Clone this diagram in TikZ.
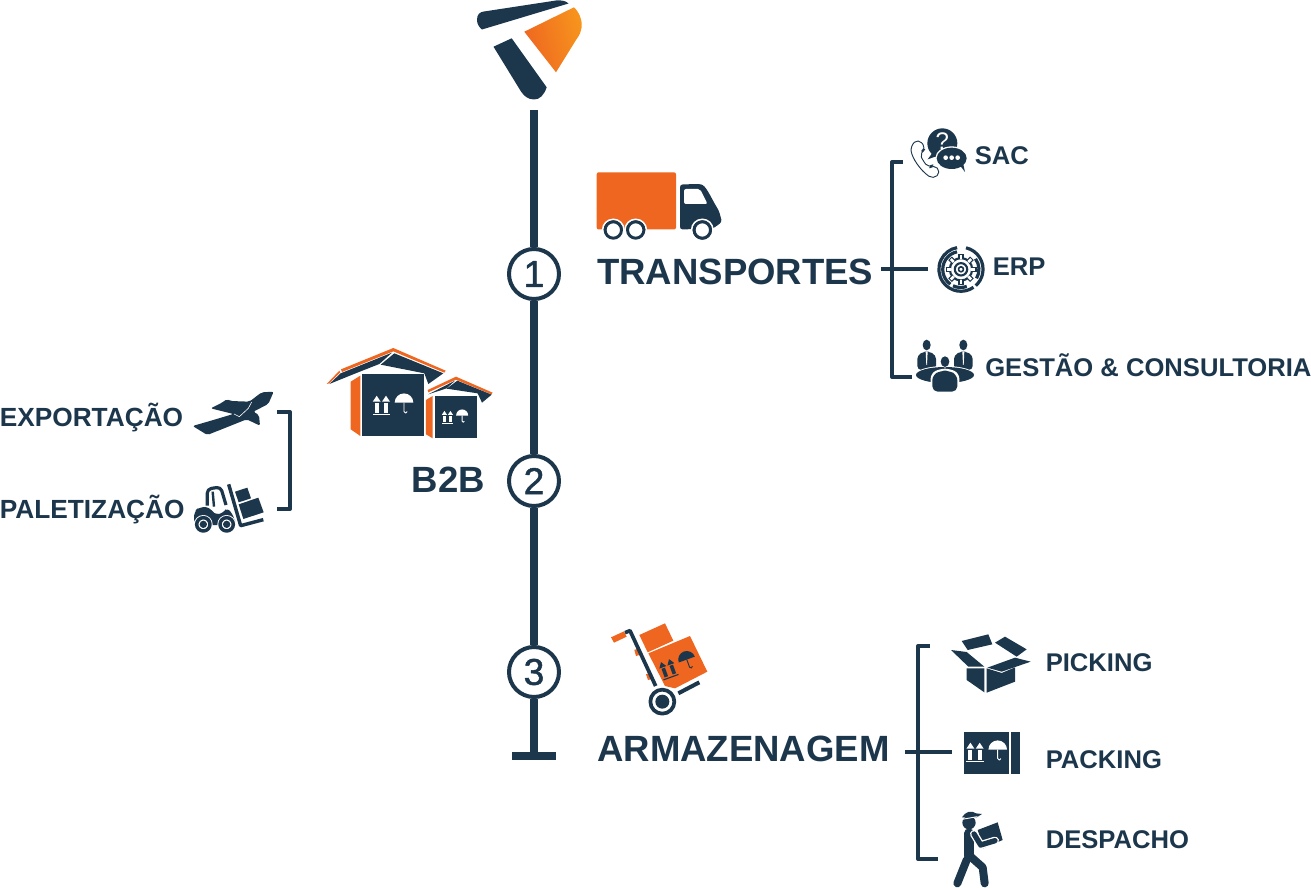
\documentclass[tikz,border=0pt]{standalone}
\usepackage{fontspec}
\setmainfont{Liberation Sans}
\newfontfamily\stepfont[FakeBold=1.2]{Liberation Sans}
\usepackage{tikz}
\usetikzlibrary{positioning, calc}
\definecolor{navy}{HTML}{1C364C}
\definecolor{tangerine}{HTML}{EE6620}
\definecolor{amber}{HTML}{F7941D}

% arrows and umbrella printed on the boxes
\newcommand{\boxmarks}[5]{
	\begin{scope}[shift={(#1,#2)},rotate=#4,scale=#3]
		\foreach \ax in {-16.3,-7}{
			\fill[#5] (\ax-4,-3.3) -- (\ax,-9.3) -- (\ax+4,-3.3) -- cycle;
			\fill[#5] (\ax-2,-2.2) rectangle (\ax+2,7.7);
		}
		\fill[#5] (-20.3,9.2) rectangle (-3,10.4);
		\fill[#5] (1.7,-2.3) arc[start angle=180,end angle=360,radius=9.3] -- cycle;
		\draw[#5,line width=.7pt] (11,-2.3) -- (11,6.5) arc[start angle=180,end angle=0,radius=1.6];
	\end{scope}
}

\begin{document}
\begin{tikzpicture}[x=0.75pt,y=-0.75pt,line join=round]
	\def \axisx{534}
	\def \headsize{27.4pt}
	\def \itemsize{19.2pt}
	\def \leftsize{19.7pt}
	\tikzstyle{s-node}=[circle,draw=navy,line width=3pt,fill=white,minimum size=37.5pt,inner sep=0pt,text=navy,font=\fontsize{28pt}{28pt}\stepfont]
	\tikzstyle{h-node}=[inner sep=0pt,text=navy,font=\fontsize{\headsize}{\headsize}\selectfont\bfseries]
	\tikzstyle{i-node}=[inner sep=0pt,anchor=west,text=navy,font=\fontsize{\itemsize}{\itemsize}\selectfont\bfseries]
	\tikzstyle{l-node}=[i-node,font=\fontsize{\leftsize}{\leftsize}\selectfont\bfseries]
	\tikzstyle{axis}=[draw=navy,line width=6pt]
	\tikzstyle{bracket}=[draw=navy,line width=3pt]
	\tikzstyle{dk}=[fill=navy]
	\tikzstyle{og}=[fill=tangerine]
	\useasboundingbox (0,0) rectangle (1311,888);

	% logo
	\fill[dk] (477,20) .. controls (477,14) and (480,12) .. (484,11.5) -- (556,0.5) .. controls (562,0) and (566,1) .. (568.5,3.5) -- (482,29.5) .. controls (479,27) and (477,24) .. cycle;
	\fill[dk] (493.5,46.7) -- (511.7,38.3) -- (546.7,87.3) .. controls (544,95) and (540,99.5) .. (534,99.5) .. controls (528,99.5) and (524,96) .. (521,91.5) -- cycle;
	\shade[left color=tangerine,right color=amber,shading angle=105] (524.3,31.7) -- (574,7.3) .. controls (581,14) and (583,24) .. (581,30) .. controls (580,35) and (578,37) .. (576,40) -- (556,72.3) -- cycle;

	% axis
	\coordinate (axtop) at (\axisx,110);
	\coordinate (axbot) at (\axisx,756);
	\coordinate (axl) at (512,756);
	\coordinate (axr) at (556,756);
	\node[s-node] (s1) at (\axisx,274) {1};
	\node[s-node] (s2) at (\axisx,481) {2};
	\node[s-node] (s3) at (\axisx,672) {3};
	\path[axis]
		(axtop) edge (s1)
		(s1) edge (s2)
		(s2) edge (s3)
		(s3) edge (axbot)
		(axl) edge (axr);

	% truck
	\fill[og,rounded corners=1.5pt] (596.7,172.3) rectangle (676,229.5);
	\fill[dk,rounded corners=2pt] (680,184.5) -- (698,184) .. controls (706,185) and (710,196) .. (719,211) -- (722,222) -- (713,228.5) -- (680,229.5) -- cycle;
	\fill[white,rounded corners=1.5pt] (684,189) -- (700,189) -- (707.5,204) -- (684,204) -- cycle;
	\foreach \wx in {613.3,635.7,702.3}{
		\fill[white] (\wx,230) circle[radius=11.5];
		\draw[navy,line width=2.2pt,fill=white] (\wx,230) circle[radius=8.2];
	}
	\fill[white] (596,230) rectangle (680,240);
	\foreach \wx in {613.3,635.7,702.3}
		\draw[navy,line width=2.2pt,fill=white] (\wx,230) circle[radius=8.2];

	% transportes block
	\node[h-node,anchor=west] (transp) at (597,272) {TRANSPORTES};
	\coordinate (trmid) at (881,269);
	\coordinate (tricon) at (928,269);
	\coordinate (trtop) at (903,162);
	\coordinate (trbot) at (892,377);
	\coordinate (trend) at (912,377);
	\path[bracket] (trmid) edge (tricon);
	\draw[bracket] (trtop) -| (trbot) -- (trend);
	\node[i-node] (sac) at (974.5,155.5) {SAC};
	\node[i-node] (erp) at (992.5,267) {ERP};
	\node[i-node] (gestao) at (985,365.3) {GESTÃO \& CONSULTORIA};

	% sac icon
	\begin{scope}[shift={(905,120)},scale=1/3]
		\draw[navy,line width=.7pt,rounded corners=4pt,fill=white] (40,56) -- (16,78) .. controls (22,115) and (45,150) .. (85,178) -- (108,156) -- (86,133) -- (72,145) .. controls (60,130) and (50,115) .. (45,96) -- (64,86) -- cycle;
		\fill[white] (112,70) circle[radius=50];
		\fill[dk] (112,70) circle[radius=45];
		\fill[dk] (85,95) -- (68,118) -- (105,105) -- cycle;
		\fill[white] (140,115) ellipse[x radius=49,y radius=36];
		\fill[dk] (140,115) ellipse[x radius=45,y radius=32];
		\fill[dk] (160,130) -- (180,156) -- (172,120) -- cycle;
		\foreach \dx in {122,140,158}
			\fill[white] (\dx,113) circle[radius=7];
	\end{scope}
	\node[inner sep=0pt,text=white,font=\fontsize{18pt}{18pt}\selectfont] (sacq) at (942.3,141) {?};

	% erp icon
	\begin{scope}[shift={(961,269.3)}]
		\draw[navy,line width=2.4pt] (5,-21.5) arc[start angle=-77,end angle=48,radius=22];
		\draw[navy,line width=2.4pt] (12.5,18) arc[start angle=55,end angle=260,radius=22];
		\draw[navy,line width=2.4pt] (-4,-17.5) arc[start angle=258,end angle=125,radius=18];
		\draw[navy,line width=2.4pt] (-8,16.5) arc[start angle=115,end angle=70,radius=18];
		\draw[navy,line width=2.4pt] (14.5,-10.5) arc[start angle=-36,end angle=30,radius=18];
		\foreach \ga in {0,45,...,315}
			\fill[dk,rotate=\ga] (-2.6,-15.5) rectangle (2.6,-11);
		\draw[navy,line width=1.6pt,fill=white] (0,0) circle[radius=11.2];
		\foreach \ga in {0,45,...,315}
			\fill[white,rotate=\ga] (-1.3,-14.4) rectangle (1.3,-10.3);
		\draw[navy,line width=1.6pt] (0,0) circle[radius=6.2];
		\draw[navy,line width=1.2pt] (0,0) circle[radius=2.5];
	\end{scope}

	% meeting icon
	\begin{scope}[shift={(880,120)},scale=1/3]
		\foreach \px in {140,250}{
			\fill[dk] (\px,675) ellipse[x radius=12,y radius=16];
			\fill[dk,rounded corners=3pt] (\px-28,705) -- (\px-5,694) -- (\px+5,694) -- (\px+28,705) -- (\px+28,750) -- (\px-28,750) -- cycle;
			\fill[white] (\px-3,694) -- (\px+3,694) -- (\px+1,735) -- (\px-1,735) -- cycle;
		}
		\fill[white] (195,765) ellipse[x radius=90,y radius=27];
		\fill[dk] (195,765) ellipse[x radius=87,y radius=24];
		\fill[white,rounded corners=4pt] (152,815) -- (152,760) -- (180,746) -- (210,746) -- (238,760) -- (238,815) -- cycle;
		\fill[dk,rounded corners=4pt] (157,815) -- (157,765) -- (183,752) -- (207,752) -- (232,765) -- (232,815) -- cycle;
		\fill[white] (195,725) ellipse[x radius=15,y radius=18];
		\fill[dk] (195,725) ellipse[x radius=13,y radius=16];
	\end{scope}

	% b2b icon
	\begin{scope}[shift={(0,340)},scale=1/3]
		% roofs
		\fill[og] (980,132) -- (1018,92) -- (1021,97) -- (988,130) -- cycle;
		\fill[og] (1023,88) -- (1180,24) -- (1337,92) -- (1333,98) -- (1180,34) -- (1026,96) -- cycle;
		\fill[dk] (988,132) -- (1022,100) -- (1176,38) -- (1138,72) -- (1072,98) -- cycle;
		\fill[dk] (1183,40) -- (1330,100) -- (1285,132) -- (1273,100) -- (1142,74) -- cycle;
		\fill[og] (1052,125) -- (1081,107) -- (1081,288) -- (1052,268) -- cycle;
		\fill[dk] (1086,103) rectangle (1272,288);
		\fill[og] (1283,150) -- (1368,110) -- (1478,158) -- (1474,163) -- (1368,119) -- (1285,157) -- cycle;
		\fill[dk] (1285,163) -- (1365,122) -- (1340,145) -- cycle;
		\fill[dk] (1372,122) -- (1475,164) -- (1446,188) -- (1433,160) -- (1340,146) -- cycle;
		\fill[og] (1278,180) -- (1298,168) -- (1298,295) -- (1278,283) -- cycle;
		\draw[white,line width=.8pt,dk] (1302,166) rectangle (1432,295);
	\end{scope}
	\boxmarks{393}{405}{1}{0}{white}
	\boxmarks{455}{417}{0.65}{0}{white}
	\node[h-node,anchor=west] (b2b) at (411.5,480) {B2B};

	% left side
	\node[l-node] (export) at (-0.5,417.3) {EXPORTAÇÃO};
	\node[l-node] (palet) at (-0.5,510) {PALETIZAÇÃO};
	\coordinate (lbtop) at (277,412);
	\coordinate (lbbot) at (277,509);
	\coordinate (lbcol) at (290,509);
	\draw[bracket] (lbtop) -| (lbcol) -- (lbbot);

	% plane
	\begin{scope}[shift={(0,340)},scale=1/3]
		\fill[dk,rounded corners=1.5pt] (821,155) -- (785,157) -- (748,185) -- (692,183) -- (680,177) -- (668,187) -- (632,205) -- (700,222) -- (640,240) -- (578,258) -- (622,285) -- (740,238) -- (780,257) -- (777,225) -- (760,215) -- (805,192) -- cycle;
		\draw[white,line width=.45pt] (702,222) -- (718,230) -- (745,205) -- (755,186);
	\end{scope}

	% forklift
	\begin{scope}[shift={(190,475)},scale=1/3]
		\draw[navy,line width=2.4pt,rounded corners=3pt] (52,92) -- (52,42) -- (92,36) -- (108,90);
		\draw[navy,line width=1.8pt] (68,50) -- (72,95);
		\fill[dk,rounded corners=4pt] (12,150) -- (12,110) -- (28,96) -- (60,96) -- (72,120) -- (100,115) -- (112,96) -- (135,130) -- (135,150) -- cycle;
		\foreach \wx in {40,110}{
			\fill[white] (\wx,148) circle[radius=28];
			\draw[navy,line width=2.6pt,fill=white] (\wx,148) circle[radius=20];
			\fill[dk] (\wx,148) circle[radius=11];
		}
		\draw[navy,line width=2.6pt] (116,28) -- (152,152) -- (220,134);
		\fill[dk] (135,50) -- (172,38) -- (183,70) -- (146,82) -- cycle;
		\fill[dk] (146,88) -- (205,68) -- (221,112) -- (160,132) -- cycle;
	\end{scope}

	% hand truck
	\begin{scope}[shift={(500,610)},scale=1/3]
		\fill[og] (418,75) -- (495,40) -- (520,92) -- (443,127) -- cycle;
		\fill[og] (445,130) -- (570,78) -- (622,185) -- (525,235) -- (495,228) -- cycle;
		\fill[og] (333,82) -- (372,64) -- (380,80) -- (342,98) -- cycle;
		\fill[og] (403,120) -- (413,116) -- (418,135) -- (408,138) -- cycle;
		\fill[og] (438,193) -- (446,190) -- (452,208) -- (444,210) -- cycle;
		\draw[navy,line width=2.8pt] (375,68) -- (390,62) -- (467,228);
		\draw[navy,line width=3pt] (535,250) -- (598,217);
		\draw[navy,line width=2.8pt] (487,275) circle[radius=36];
		\fill[dk] (487,275) circle[radius=21];
	\end{scope}
	\boxmarks{678}{665}{0.92}{20}{navy}

	% armazenagem block
	\node[h-node,anchor=west] (armaz) at (597,749) {ARMAZENAGEM};
	\coordinate (armid) at (905,752);
	\coordinate (aricon) at (952,752);
	\coordinate (artop) at (930,646);
	\coordinate (arbot) at (918,859);
	\coordinate (arend) at (938,859);
	\path[bracket] (armid) edge (aricon);
	\draw[bracket] (artop) -| (arbot) -- (arend);
	\node[i-node] (picking) at (1045.5,663) {PICKING};
	\node[i-node] (packing) at (1045.5,760) {PACKING};
	\node[i-node] (despacho) at (1045.5,840) {DESPACHO};

	% open box
	\begin{scope}[shift={(900,630)},scale=1/3]
		\fill[dk] (185,33) -- (265,13) -- (277,43) -- (203,60) -- cycle;
		\fill[dk] (285,38) -- (315,20) -- (380,58) -- (350,80) -- cycle;
		\fill[dk] (153,60) -- (200,66) -- (253,110) -- (205,110) -- cycle;
		\fill[dk] (262,113) -- (345,83) -- (392,95) -- (305,125) -- cycle;
		\fill[dk] (200,115) -- (253,115) -- (253,187) -- (200,150) -- cycle;
		\fill[dk] (260,115) -- (305,129) -- (345,112) -- (345,155) -- (260,188) -- cycle;
	\end{scope}

	% packed box
	\fill[dk] (964.3,731.7) rectangle (1009,774);
	\fill[dk] (1011,731.7) rectangle (1020,774);
	\boxmarks{986.7}{752}{1}{0}{white}

	% porter
	\begin{scope}[shift={(900,630)},scale=1/3]
		\fill[dk] (207,578) circle[radius=20];
		\fill[dk] (186,562) .. controls (195,545) and (215,540) .. (228,550) -- (246,552) -- (230,562) -- cycle;
		\draw[white,line width=.7pt] (186,568) -- (232,560);
		\fill[dk] (233,600) -- (293,577) -- (308,630) -- (250,655) -- cycle;
		\draw[navy,line width=7.5pt,line cap=round] (207,610) -- (207,678);
		\draw[navy,line width=6pt,line cap=round] (200,690) -- (172,760);
		\draw[navy,line width=6pt,line cap=round] (212,680) -- (248,712) -- (254,760);
		\draw[white,line width=6pt,line cap=round] (222,612) -- (242,645) -- (285,632);
		\draw[navy,line width=4pt,line cap=round] (222,612) -- (242,645) -- (285,632);
	\end{scope}
\end{tikzpicture}
\end{document}
